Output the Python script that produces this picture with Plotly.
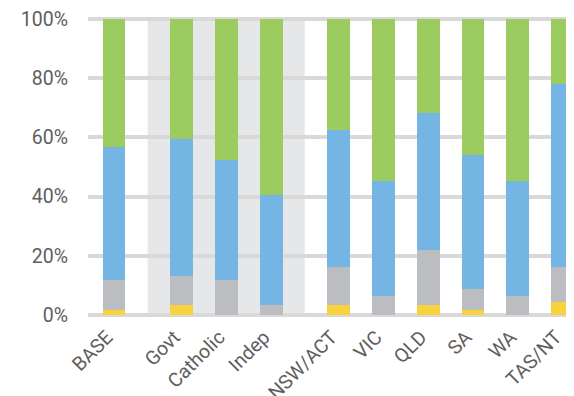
import plotly.graph_objects as go

categories = ["BASE", "Govt", "Catholic", "Indep", "NSW/ACT", "VIC", "QLD", "SA", "WA", "TAS/NT"]
positions = [0, 1.5, 2.5, 3.5, 5, 6, 7, 8, 9, 10]
yellow_vals = [1.8, 3.2, 0.0, 0.0, 3.2, 0.0, 3.2, 1.8, 0.0, 4.5]
grey_vals = [10.1, 10.1, 11.9, 3.2, 13.1, 6.3, 18.7, 7.1, 6.3, 11.8]
blue_vals = [44.7, 46.2, 40.5, 37.5, 46.3, 38.9, 46.3, 45.0, 38.9, 61.9]
green_vals = [43.4, 40.5, 47.6, 59.3, 37.4, 54.8, 31.8, 46.1, 54.8, 21.8]
series = [
    ("Yellow", yellow_vals, "#f8d33d"),
    ("Grey", grey_vals, "#bcbdc0"),
    ("Blue", blue_vals, "#75b5e3"),
    ("Green", green_vals, "#9ccb60"),
]
yticks = [0, 20, 40, 60, 80, 100]

fig = go.Figure()
for name, vals, col in series:
    fig.add_trace(go.Bar(x=positions, y=vals, name=name, marker=dict(color=col, line=dict(width=0)),
                         width=0.51))

fig.add_shape(type="rect", xref="x", yref="paper", x0=0.75, x1=4.25, y0=0, y1=1,
              fillcolor="#e6e7e9", line=dict(width=0), layer="below")

font = dict(family="Roboto", size=19.5, color="#5e5e5e")
fig.update_layout(
    barmode="stack",
    width=566, height=388,
    margin=dict(l=80, r=0, t=9, b=79),
    paper_bgcolor="white", plot_bgcolor="white",
    showlegend=False,
    font=font,
    xaxis=dict(tickmode="array", tickvals=positions, ticktext=categories, tickangle=-45,
               range=[-0.58, 10.25], showgrid=False, zeroline=False, showline=False,
               ticks="", tickfont=font, automargin=False, ticklabeloverflow="allow",
               ticklabelstandoff=4, ticklabelshift=-7),
    yaxis=dict(tickmode="array", tickvals=yticks, ticktext=[f"{v}%" for v in yticks],
               range=[-0.7, 100.7], showgrid=True, gridcolor="#d9d9d9", gridwidth=4,
               zeroline=False, showline=False, ticks="", ticklabelstandoff=19, tickfont=font,
               automargin=False, ticklabeloverflow="allow"),
)
fig.write_html("out.html")
